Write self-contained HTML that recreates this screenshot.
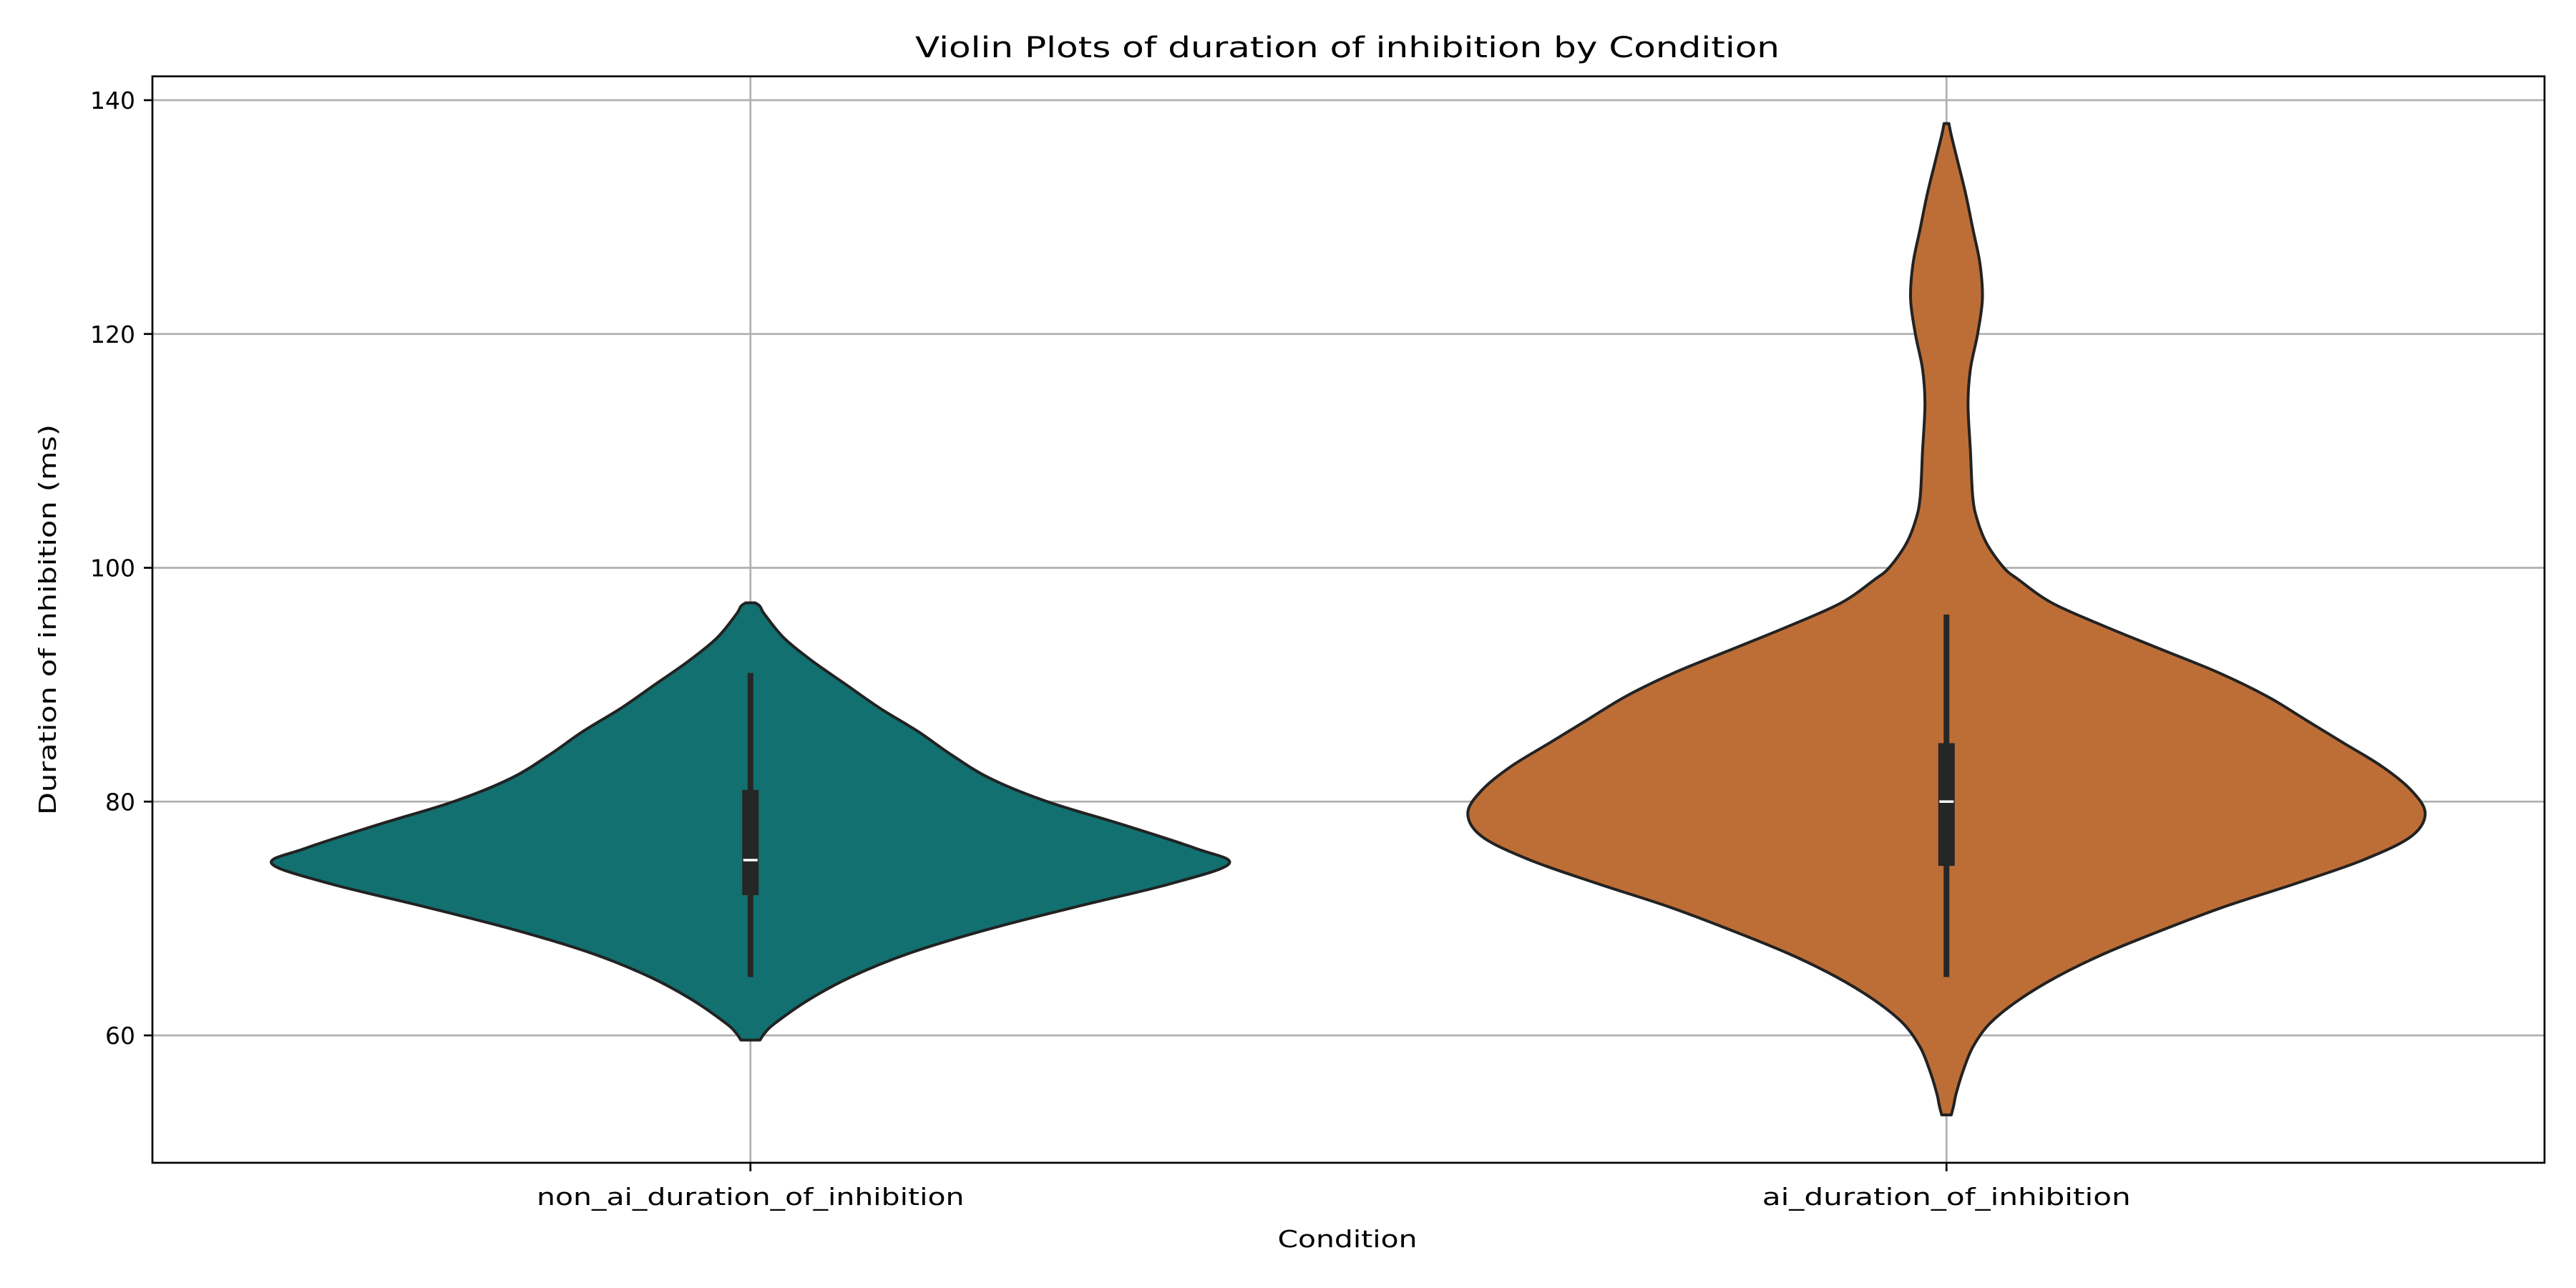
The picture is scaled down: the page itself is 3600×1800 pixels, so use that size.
<!DOCTYPE html>
<html><head><meta charset="utf-8">
<style>
html,body{margin:0;padding:0;background:#fff;}
svg{display:block;font-family:"DejaVu Sans","Liberation Sans",sans-serif;}
</style></head>
<body>
<svg id="chart" width="3600" height="1800" viewBox="0 0 3600 1800" xmlns="http://www.w3.org/2000/svg">
<rect width="3600" height="1800" fill="#fff"/>
<g id="grid"></g>
<g id="violins"></g>
<g id="axes"></g>
<text x="1883" y="80" font-size="40" text-anchor="middle" textLength="1208" lengthAdjust="spacingAndGlyphs">Violin Plots of duration of inhibition by Condition</text>
<text x="1883" y="1743" font-size="33" text-anchor="middle" textLength="195" lengthAdjust="spacingAndGlyphs">Condition</text>
<text x="0" y="0" font-size="33" text-anchor="middle" textLength="546" lengthAdjust="spacingAndGlyphs" transform="translate(78,866) rotate(-90)">Duration of inhibition (ms)</text>
</svg>
<script>
const categories = ["non_ai_duration_of_inhibition", "ai_duration_of_inhibition"];
const yTicks = [60, 80, 100, 120, 140];
// density profiles: y values and relative half-widths
const v1Y = [59.6, 60.2, 61, 63, 65, 67, 69, 71, 73, 74.7, 76, 78, 80, 82, 84, 86, 88, 90, 92, 94, 96, 96.7, 97];
const v1W = [0.02, 0.03, 0.05, 0.12, 0.21, 0.33, 0.49, 0.68, 0.88, 1.0, 0.93, 0.78, 0.62, 0.5, 0.42, 0.35, 0.27, 0.2, 0.13, 0.07, 0.03, 0.02, 0.01];
const v2Y = [53.2, 54, 55, 57, 59, 61, 63, 65, 67, 69, 71, 73, 75, 77, 79, 81, 83, 85, 87, 89, 91, 93, 95, 97, 99, 100, 102, 104, 106, 110, 114, 117, 120, 123, 126, 129, 132, 135, 137, 138];
const v2W = [0.01, 0.015, 0.02, 0.035, 0.055, 0.09, 0.15, 0.23, 0.33, 0.45, 0.58, 0.73, 0.87, 0.97, 1.0, 0.97, 0.91, 0.83, 0.75, 0.67, 0.57, 0.45, 0.33, 0.22, 0.15, 0.12, 0.085, 0.065, 0.055, 0.05, 0.045, 0.05, 0.065, 0.075, 0.07, 0.055, 0.04, 0.022, 0.01, 0.005];
const whiskerLow = [65, 65];
const q1 = [72, 74.5];
const medians = [75, 80];
const q3 = [81, 85];
const whiskerHigh = [91, 96];
const fills = ["#127070", "#bd6e37"];

const L = 213, R = 3556, T = 106.7, B = 1625;
const yS = v => 1447 - (v - 60) * (1447 - 140) / 80;
const xS = i => L + (R - L) * (i + 0.5) / categories.length;
const halfW = 669;
const NS = "http://www.w3.org/2000/svg";
function mk(tag, attrs, parent) {
  const e = document.createElementNS(NS, tag);
  for (const k in attrs) e.setAttribute(k, attrs[k]);
  parent.appendChild(e);
  return e;
}
const grid = document.getElementById('grid');
const axes = document.getElementById('axes');
const vg = document.getElementById('violins');

yTicks.forEach(t => {
  const y = yS(t);
  const g = mk('line', {x1: L, x2: R, y1: y, y2: y, stroke: '#b0b0b0', 'stroke-width': 2.7}, grid);
  
  
  const tk = mk('line', {x1: L - 12, x2: L, y1: y, y2: y, stroke: '#000', 'stroke-width': 2.7}, axes);
  
  
  const tx = mk('text', {x: L - 24, y: y + 12, 'font-size': 33, 'text-anchor': 'end'}, axes);
  tx.textContent = t;
  
  
});
categories.forEach((c, i) => {
  const x = xS(i);
  const g = mk('line', {x1: x, x2: x, y1: T, y2: B, stroke: '#b0b0b0', 'stroke-width': 2.7}, grid);
  
  
  const tk = mk('line', {x1: x, x2: x, y1: B, y2: B + 12, stroke: '#000', 'stroke-width': 2.7}, axes);
  
  
  const tx = mk('text', {x: x, y: 1684, 'font-size': 33, 'text-anchor': 'middle', textLength: c.length * 20.6, lengthAdjust: 'spacingAndGlyphs'}, axes);
  tx.textContent = c;
  
  
});
const frame = mk('rect', {x: L, y: T, width: R - L, height: B - T, fill: 'none', stroke: '#000', 'stroke-width': 2.7}, axes);



function smoothPath(pts) {
  let d = 'M' + pts[0][0] + ',' + pts[0][1];
  for (let i = 0; i < pts.length - 1; i++) {
    const p0 = pts[Math.max(0, i - 1)], p1 = pts[i], p2 = pts[i + 1], p3 = pts[Math.min(pts.length - 1, i + 2)];
    const c1 = [p1[0] + (p2[0] - p0[0]) / 6, p1[1] + (p2[1] - p0[1]) / 6];
    const c2 = [p2[0] - (p3[0] - p1[0]) / 6, p2[1] - (p3[1] - p1[1]) / 6];
    d += 'C' + c1.join(',') + ' ' + c2.join(',') + ' ' + p2.join(',');
  }
  return d;
}
const profiles = [[v1Y, v1W], [v2Y, v2W]];
profiles.forEach((p, i) => {
  const cx = xS(i);
  const ys = p[0], ws = p[1];
  const right = ys.map((v, k) => [cx + ws[k] * halfW, yS(v)]);
  const left = ys.map((v, k) => [cx - ws[k] * halfW, yS(v)]).reverse();
  const d = smoothPath(right) + smoothPath(left).replace('M', 'L') + 'Z';
  const path = mk('path', {d: d, fill: fills[i], stroke: '#222', 'stroke-width': 4, 'stroke-linejoin': 'round'}, vg);
  
  
  const wh = mk('line', {x1: cx, x2: cx, y1: yS(whiskerLow[i]), y2: yS(whiskerHigh[i]), stroke: '#262626', 'stroke-width': 8}, vg);
  
  
  const bx = mk('rect', {x: cx - 11.5, y: yS(q3[i]), width: 23, height: yS(q1[i]) - yS(q3[i]), fill: '#262626'}, vg);
  
  
  const md = mk('line', {x1: cx - 10, x2: cx + 10, y1: yS(medians[i]), y2: yS(medians[i]), stroke: '#fff', 'stroke-width': 3.5}, vg);
  
  
});
</script>
</body></html>
